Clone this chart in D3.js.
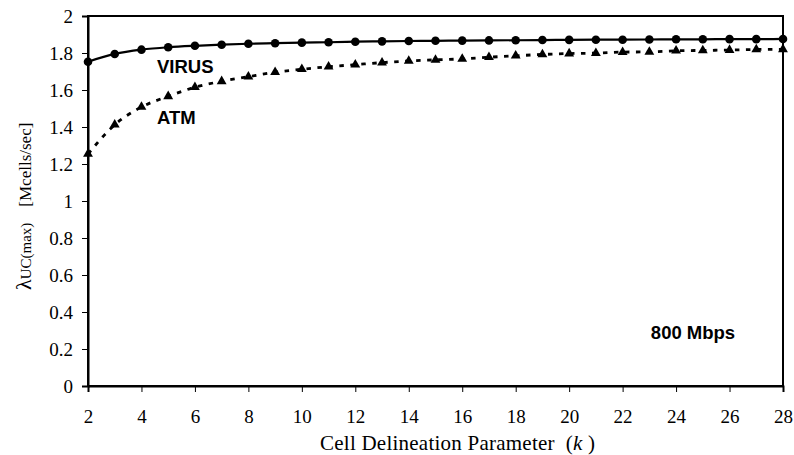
<!DOCTYPE html>
<html>
<head>
<meta charset="utf-8">
<script src="https://cdn.jsdelivr.net/npm/d3@7"></script>
<style>
  body { margin: 0; background: #fff; }
  svg { display: block; }
  .pre { white-space: pre; }
</style>
</head>
<body>
<figure id="chart" style="margin:0"></figure>
<script>
// k values
const kValues = [2, 3, 4, 5, 6, 7, 8, 9, 10, 11, 12, 13, 14, 15, 16, 17, 18, 19, 20, 21, 22, 23, 24, 25, 26, 27, 28];

// VIRUS series (solid, circles)
const virusValues = [1.753, 1.795, 1.818, 1.831, 1.839, 1.845, 1.850, 1.853, 1.856, 1.858, 1.861, 1.863, 1.865, 1.866, 1.867, 1.868, 1.869, 1.870, 1.871, 1.872, 1.872, 1.873, 1.874, 1.874, 1.875, 1.875, 1.876];

// ATM series (dashed, triangles)
const atmValues = [1.254, 1.412, 1.508, 1.566, 1.615, 1.647, 1.672, 1.696, 1.712, 1.726, 1.737, 1.748, 1.757, 1.763, 1.768, 1.777, 1.785, 1.792, 1.797, 1.799, 1.805, 1.806, 1.812, 1.814, 1.816, 1.819, 1.820];

const xTicks = [2, 4, 6, 8, 10, 12, 14, 16, 18, 20, 22, 24, 26, 28];
const yTicks = [0, 0.2, 0.4, 0.6, 0.8, 1, 1.2, 1.4, 1.6, 1.8, 2];

const totalW = 794, totalH = 455;
const margin = { top: 16, right: 11, bottom: 69, left: 88 };
const width = totalW - margin.left - margin.right;
const height = totalH - margin.top - margin.bottom;

const serif = "'Liberation Serif', 'Times New Roman', serif";
const sans = "'Liberation Sans', Arial, sans-serif";

const svg = d3.select("figure#chart")
  .append("svg")
  .attr("width", totalW)
  .attr("height", totalH)
  .append("g")
  .attr("transform", `translate(${margin.left},${margin.top})`);

const x = d3.scaleLinear().domain([2, 28]).range([0, width]);
const y = d3.scaleLinear().domain([0, 2]).range([height, 0]);

// frame
svg.append("rect")
  .attr("x", 0).attr("y", 0)
  .attr("width", width).attr("height", height)
  .attr("fill", "none")
  .attr("stroke", "#000")
  .attr("stroke-width", 2);

// X axis
svg.append("g")
  .attr("transform", `translate(0,${height})`)
  .call(d3.axisBottom(x)
    .tickValues(xTicks)
    .tickSize(6)
    .tickPadding(18)
    .tickFormat(d => d))
  .call(g => g.select(".domain").attr("stroke-width", 2))
  .call(g => g.selectAll(".tick line").attr("stroke-width", 1))
  .call(g => g.selectAll("text")
    .attr("font-family", serif)
    .attr("font-size", 19)
    .attr("fill", "#000"));

// Y axis
svg.append("g")
  .call(d3.axisLeft(y)
    .tickValues(yTicks)
    .tickSize(6)
    .tickPadding(9)
    .tickFormat(d => String(+d.toFixed(1))))
  .call(g => g.select(".domain").attr("stroke-width", 2))
  .call(g => g.selectAll(".tick line").attr("stroke-width", 1))
  .call(g => g.selectAll("text")
    .attr("font-family", serif)
    .attr("font-size", 19)
    .attr("fill", "#000"));

// X title
const xTitle = svg.append("text")
  .attr("class", "pre")
  .attr("x", 320 - margin.left)
  .attr("y", 450 - margin.top)
  .attr("textLength", 275)
  .attr("lengthAdjust", "spacing")
  .attr("font-family", serif)
  .attr("font-size", 21)
  .attr("fill", "#000");
xTitle.append("tspan").text("Cell Delineation Parameter  (");
xTitle.append("tspan").attr("font-style", "italic").text("k");
xTitle.append("tspan").text(" )");

// Y title
const yTitle = svg.append("text")
  .attr("class", "pre")
  .attr("transform", `translate(${31 - margin.left},${290 - margin.top}) rotate(-90)`)
  .attr("font-family", serif)
  .attr("fill", "#000");
yTitle.append("tspan").attr("font-size", 22).text("λ");
yTitle.append("tspan").attr("font-size", 15).text("UC(max)");
yTitle.append("tspan").attr("font-size", 17).attr("dx", 16).text("[Mcells/sec]");

// lines
const line = d3.line()
  .x((d, i) => x(kValues[i]))
  .y(d => y(d))
  .curve(d3.curveMonotoneX);

svg.append("path")
  .datum(virusValues)
  .attr("fill", "none")
  .attr("stroke", "#000")
  .attr("stroke-width", 2.2)
  .attr("d", line);

svg.append("path")
  .datum(atmValues)
  .attr("fill", "none")
  .attr("stroke", "#000")
  .attr("stroke-width", 2.8)
  .attr("stroke-dasharray", "4.5,6.5")
  .attr("d", line);

// markers
svg.selectAll("circle.virus")
  .data(virusValues)
  .enter()
  .append("circle")
  .attr("class", "virus")
  .attr("cx", (d, i) => x(kValues[i]))
  .attr("cy", d => y(d))
  .attr("r", 4.3)
  .attr("fill", "#000");

svg.selectAll("path.atm")
  .data(atmValues)
  .enter()
  .append("path")
  .attr("class", "atm")
  .attr("transform", (d, i) => `translate(${x(kValues[i])},${y(d)})`)
  .attr("d", d3.symbol().type(d3.symbolTriangle).size(42))
  .attr("fill", "#000");

// labels
svg.append("text")
  .attr("x", 157 - margin.left).attr("y", 73 - margin.top)
  .attr("font-family", sans).attr("font-weight", "bold")
  .attr("font-size", 18.5).attr("fill", "#000")
  .text("VIRUS");

svg.append("text")
  .attr("x", 157 - margin.left).attr("y", 124 - margin.top)
  .attr("font-family", sans).attr("font-weight", "bold")
  .attr("font-size", 18.5).attr("fill", "#000")
  .text("ATM");

svg.append("text")
  .attr("x", 693 - margin.left).attr("y", 339 - margin.top)
  .attr("text-anchor", "middle")
  .attr("font-family", sans).attr("font-weight", "bold")
  .attr("font-size", 18.5).attr("fill", "#000")
  .text("800 Mbps");
</script>
</body>
</html>
